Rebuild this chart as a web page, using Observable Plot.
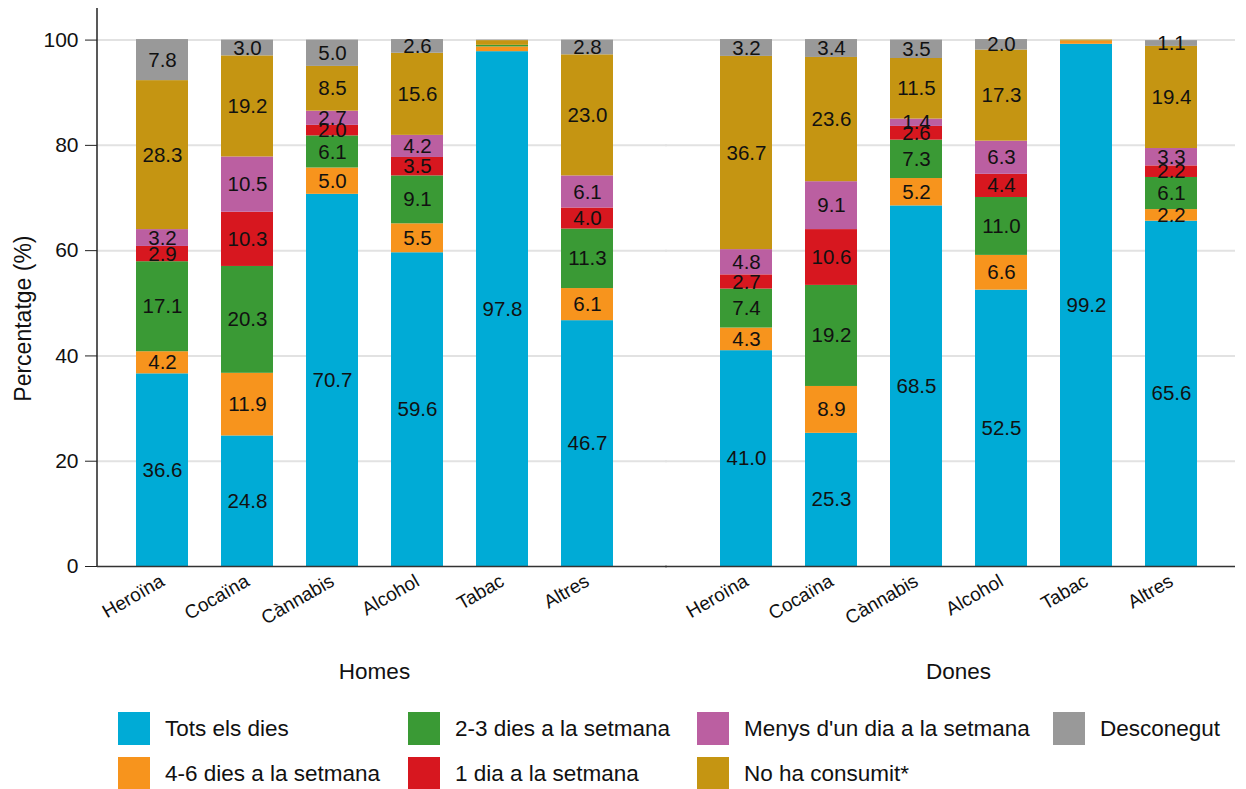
<!DOCTYPE html>
<html><head><meta charset="utf-8">
<script src="https://cdn.jsdelivr.net/npm/d3@7"></script>
<script src="https://cdn.jsdelivr.net/npm/@observablehq/plot@0.6"></script>
<style>
body{margin:0;background:#fff;font-family:"Liberation Sans",Arial,sans-serif;}
#legend{display:grid;grid-template-rows:45px 45px;grid-auto-flow:column;grid-template-columns:290px 289px 356px auto;padding-left:118px;padding-top:12px;}
.item{display:flex;align-items:center;font-size:22.5px;height:33px;color:#111}
.sw{width:32px;height:33px;margin-right:15px;flex:none}
</style></head><body>
<div id="chart"></div><div id="legend"></div>
<script>
const groups = ["Homes", "Dones"];
const substances = ["Heroïna", "Cocaïna", "Cànnabis", "Alcohol", "Tabac", "Altres"];
const categories = ["Tots els dies", "4-6 dies a la setmana", "2-3 dies a la setmana", "1 dia a la setmana", "Menys d'un dia a la setmana", "No ha consumit*", "Desconegut"];
const colors = ["#00ABD6", "#F7941D", "#3A9A35", "#D7171F", "#BB5FA1", "#C59512", "#999999"];
const yTicks = [0, 20, 40, 60, 80, 100];
const yLabel = "Percentatge (%)";

// Homes (per substance, in order of `substances`)
const homesTots   = [36.6, 24.8, 70.7, 59.6, 97.8, 46.7];
const homes46     = [4.2, 11.9, 5.0, 5.5, 0.9, 6.1];
const homes23     = [17.1, 20.3, 6.1, 9.1, 0.3, 11.3];
const homes1      = [2.9, 10.3, 2.0, 3.5, 0.0, 4.0];
const homesMenys  = [3.2, 10.5, 2.7, 4.2, 0.0, 6.1];
const homesNoHa   = [28.3, 19.2, 8.5, 15.6, 0.9, 23.0];
const homesDesc   = [7.8, 3.0, 5.0, 2.6, 0.1, 2.8];
// Dones
const donesTots   = [41.0, 25.3, 68.5, 52.5, 99.2, 65.6];
const dones46     = [4.3, 8.9, 5.2, 6.6, 0.6, 2.2];
const dones23     = [7.4, 19.2, 7.3, 11.0, 0.0, 6.1];
const dones1      = [2.7, 10.6, 2.6, 4.4, 0.0, 2.2];
const donesMenys  = [4.8, 9.1, 1.4, 6.3, 0.0, 3.3];
const donesNoHa   = [36.7, 23.6, 11.5, 17.3, 0.2, 19.4];
const donesDesc   = [3.2, 3.4, 3.5, 2.0, 0.0, 1.1];

const seriesByGroup = {
  Homes: [homesTots, homes46, homes23, homes1, homesMenys, homesNoHa, homesDesc],
  Dones: [donesTots, dones46, dones23, dones1, donesMenys, donesNoHa, donesDesc]
};
const data = [];
for (const g of groups) {
  seriesByGroup[g].forEach((arr, ci) => {
    arr.forEach((v, si) => data.push({group: g, substance: substances[si], cat: categories[ci], value: v}));
  });
}

const ext = 16;
const grid = yTicks.filter(t => t > 0);
const stackOpts = {x: "substance", y: "value", fx: "group", z: "cat", order: categories};

const chart = Plot.plot({
  width: 1246,
  height: 700,
  marginLeft: 97,
  marginRight: 11,
  marginTop: 8,
  marginBottom: 134,
  style: {fontFamily: "'Liberation Sans', Arial, sans-serif", background: "#fff", color: "#111"},
  fx: {domain: groups, paddingInner: 0.0514, paddingOuter: 0},
  x: {domain: substances, paddingInner: 0.3925, paddingOuter: 0.432},
  y: {domain: [0, 106]},
  color: {domain: categories, range: colors},
  marks: [
    Plot.ruleY(grid, {y: d => d, fx: () => "Homes", stroke: "#e2e2e2", strokeWidth: 2, insetRight: -ext}),
    Plot.ruleY(grid, {y: d => d, fx: () => "Dones", stroke: "#e2e2e2", strokeWidth: 2, insetLeft: -ext}),
    Plot.barY(data, Plot.stackY({...stackOpts, fill: "cat", inset: 0})),
    Plot.text(data, Plot.stackY({...stackOpts, text: d => d.value >= 1 ? d.value.toFixed(1) : "", fontSize: 20.5, fill: "#111"})),
    Plot.ruleY([0], {fx: () => "Homes", stroke: "#333", strokeWidth: 1.5, insetRight: -ext}),
    Plot.ruleY([0], {fx: () => "Dones", stroke: "#333", strokeWidth: 1.5, insetLeft: -ext}),
    Plot.axisY({ticks: yTicks, tickSize: 12, tickPadding: 7, fontSize: 21, label: null, stroke: "#222"}),
    Plot.axisX({tickSize: 0, tickPadding: 13, tickRotate: -30, fontSize: 19, label: null}),
    Plot.axisFx({anchor: "bottom", tickSize: 0, tickPadding: 97, fontSize: 22.5, label: null})
  ]
});
document.getElementById("chart").appendChild(chart);

// vertical y-axis line and y-axis title
const ys = chart.scale("y");
const svg = d3.select(chart);
svg.append("line")
  .attr("x1", 97).attr("x2", 97)
  .attr("y1", ys.apply(0)).attr("y2", ys.apply(106))
  .attr("stroke", "#222").attr("stroke-width", 1.5);
svg.append("text")
  .attr("transform", `translate(31,${ys.apply(47)}) rotate(-90)`)
  .attr("text-anchor", "middle")
  .attr("font-size", 23)
  .attr("fill", "#111")
  .text(yLabel);

const legend = d3.select("#legend");
categories.forEach((c, i) => {
  const it = legend.append("div").attr("class", "item");
  it.append("div").attr("class", "sw").style("background", colors[i]);
  it.append("span").text(c);
});
</script>
</body></html>
